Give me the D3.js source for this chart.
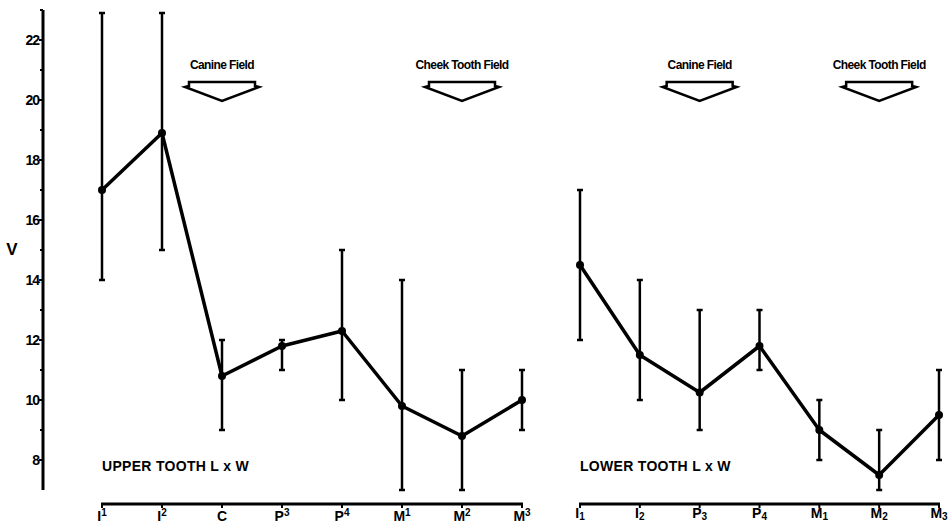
<!DOCTYPE html>
<html>
<head>
<meta charset="utf-8">
<script src="https://cdn.jsdelivr.net/npm/d3@7"></script>
<style>
  body { margin: 0; background: #fff; }
  svg { display: block; }
  text { font-family: "Liberation Sans", Arial, sans-serif; font-weight: bold; fill: #000; }
</style>
</head>
<body>
<svg id="chart" width="951" height="524"></svg>
<script>
// tooth categories (base letter + index)
var upperTeeth = [["I", "1"], ["I", "2"], ["C", ""], ["P", "3"], ["P", "4"], ["M", "1"], ["M", "2"], ["M", "3"]];
var lowerTeeth = [["I", "1"], ["I", "2"], ["P", "3"], ["P", "4"], ["M", "1"], ["M", "2"], ["M", "3"]];

// V values: mean, lower and upper bar ends
var upperMean = [17, 18.9, 10.8, 11.8, 12.3, 9.8, 8.8, 10];
var upperLow  = [14, 15, 9, 11, 10, 7, 7, 9];
var upperHigh = [22.9, 22.9, 12, 12, 15, 14, 11, 11];

var lowerMean = [14.5, 11.5, 10.25, 11.8, 9, 7.5, 9.5];
var lowerLow  = [12, 10, 9, 11, 8, 7, 8];
var lowerHigh = [17, 14, 13, 13, 10, 9, 11];

var yTicks = [8, 10, 12, 14, 16, 18, 20, 22];
var yMinor = [9, 11, 13, 15, 17, 19, 21, 23];

// field arrows: [label, index of tooth it points at]
var upperFields = [["Canine Field", 2], ["Cheek Tooth Field", 6]];
var lowerFields = [["Canine Field", 2], ["Cheek Tooth Field", 5]];

var svg = d3.select("#chart");

var yScale = d3.scaleLinear().domain([7, 23]).range([490, 10]);

// y axis
var yAxis = svg.append("g").attr("transform", "translate(43,0)");
yAxis.append("line")
    .attr("x1", 0).attr("x2", 0)
    .attr("y1", yScale(23)).attr("y2", yScale(7))
    .attr("stroke", "#000").attr("stroke-width", 3);
yAxis.selectAll(".major")
    .data(yTicks)
    .enter()
    .append("line")
    .attr("x1", -4).attr("x2", 0)
    .attr("y1", d => yScale(d)).attr("y2", d => yScale(d))
    .attr("stroke", "#000").attr("stroke-width", 2);
yAxis.selectAll(".minor")
    .data(yMinor)
    .enter()
    .append("line")
    .attr("x1", -3).attr("x2", 0)
    .attr("y1", d => yScale(d)).attr("y2", d => yScale(d))
    .attr("stroke", "#000").attr("stroke-width", 2);
yAxis.selectAll(".lbl")
    .data(yTicks)
    .enter()
    .append("text")
    .attr("x", -4)
    .attr("y", d => yScale(d) + 5)
    .attr("text-anchor", "end")
    .style("font-size", "14px")
    .style("letter-spacing", "-1px")
    .text(d => d);

svg.append("text")
    .attr("x", 12).attr("y", 255)
    .attr("text-anchor", "middle")
    .style("font-size", "17px")
    .text("V");

function drawPanel(teeth, mean, low, high, fields, x0, x1, sub, title) {
    var xScale = d3.scalePoint()
        .domain(d3.range(teeth.length))
        .range([x0, x1]);

    var g = svg.append("g");

    // x axis
    g.append("line")
        .attr("x1", x0 - 1).attr("x2", x1 + 1)
        .attr("y1", 504).attr("y2", 504)
        .attr("stroke", "#000").attr("stroke-width", 3);
    g.selectAll(".xt")
        .data(teeth)
        .enter()
        .append("line")
        .attr("x1", (d, i) => xScale(i)).attr("x2", (d, i) => xScale(i))
        .attr("y1", 504).attr("y2", 508)
        .attr("stroke", "#000").attr("stroke-width", 2);
    var lbl = g.selectAll(".xl")
        .data(teeth)
        .enter()
        .append("text")
        .attr("x", (d, i) => xScale(i))
        .attr("y", sub ? 518 : 521)
        .attr("text-anchor", "middle")
        .style("font-size", "14px");
    lbl.append("tspan").text(d => d[0]);
    lbl.append("tspan")
        .attr("dy", sub ? 2 : -5)
        .style("font-size", "10px")
        .text(d => d[1]);

    // error bars
    var bars = g.selectAll(".bar")
        .data(mean)
        .enter()
        .append("g");
    bars.append("line")
        .attr("x1", (d, i) => xScale(i)).attr("x2", (d, i) => xScale(i))
        .attr("y1", (d, i) => yScale(low[i])).attr("y2", (d, i) => yScale(high[i]))
        .attr("stroke", "#000").attr("stroke-width", 2.5);
    bars.append("line")
        .attr("x1", (d, i) => xScale(i) - 3).attr("x2", (d, i) => xScale(i) + 3)
        .attr("y1", (d, i) => yScale(low[i])).attr("y2", (d, i) => yScale(low[i]))
        .attr("stroke", "#000").attr("stroke-width", 2.5);
    bars.append("line")
        .attr("x1", (d, i) => xScale(i) - 3).attr("x2", (d, i) => xScale(i) + 3)
        .attr("y1", (d, i) => yScale(high[i])).attr("y2", (d, i) => yScale(high[i]))
        .attr("stroke", "#000").attr("stroke-width", 2.5);

    // mean line
    var line = d3.line()
        .x((d, i) => xScale(i))
        .y(d => yScale(d));
    g.append("path")
        .datum(mean)
        .attr("fill", "none")
        .attr("stroke", "#000")
        .attr("stroke-width", 3.5)
        .attr("stroke-linejoin", "round")
        .attr("d", line);
    g.selectAll(".dot")
        .data(mean)
        .enter()
        .append("circle")
        .attr("cx", (d, i) => xScale(i))
        .attr("cy", d => yScale(d))
        .attr("r", 4);

    // field arrows
    fields.forEach(function (f) {
        var cx = xScale(f[1]);
        var path = d3.path();
        path.moveTo(cx - 33, 82);
        path.lineTo(cx + 33, 82);
        path.lineTo(cx + 33, 86);
        path.lineTo(cx + 37, 87);
        path.lineTo(cx, 101);
        path.lineTo(cx - 37, 87);
        path.lineTo(cx - 33, 86);
        path.closePath();
        g.append("path")
            .attr("d", path)
            .attr("fill", "#fff")
            .attr("stroke", "#000")
            .attr("stroke-width", 2.5)
            .attr("stroke-linejoin", "miter");
        g.append("text")
            .attr("x", cx)
            .attr("y", 69)
            .attr("text-anchor", "middle")
            .style("font-family", "'Liberation Sans Narrow', 'Liberation Sans', sans-serif")
            .style("font-size", "12px")
            .style("letter-spacing", "-0.6px")
            .text(f[0]);
    });

    g.append("text")
        .attr("x", x0)
        .attr("y", 471)
        .style("font-size", "14px")
        .style("letter-spacing", "0.3px")
        .text(title);
}

drawPanel(upperTeeth, upperMean, upperLow, upperHigh, upperFields, 102, 522, false, "UPPER TOOTH  L x W");
drawPanel(lowerTeeth, lowerMean, lowerLow, lowerHigh, lowerFields, 580, 939, true, "LOWER TOOTH  L x W");
</script>
</body>
</html>
